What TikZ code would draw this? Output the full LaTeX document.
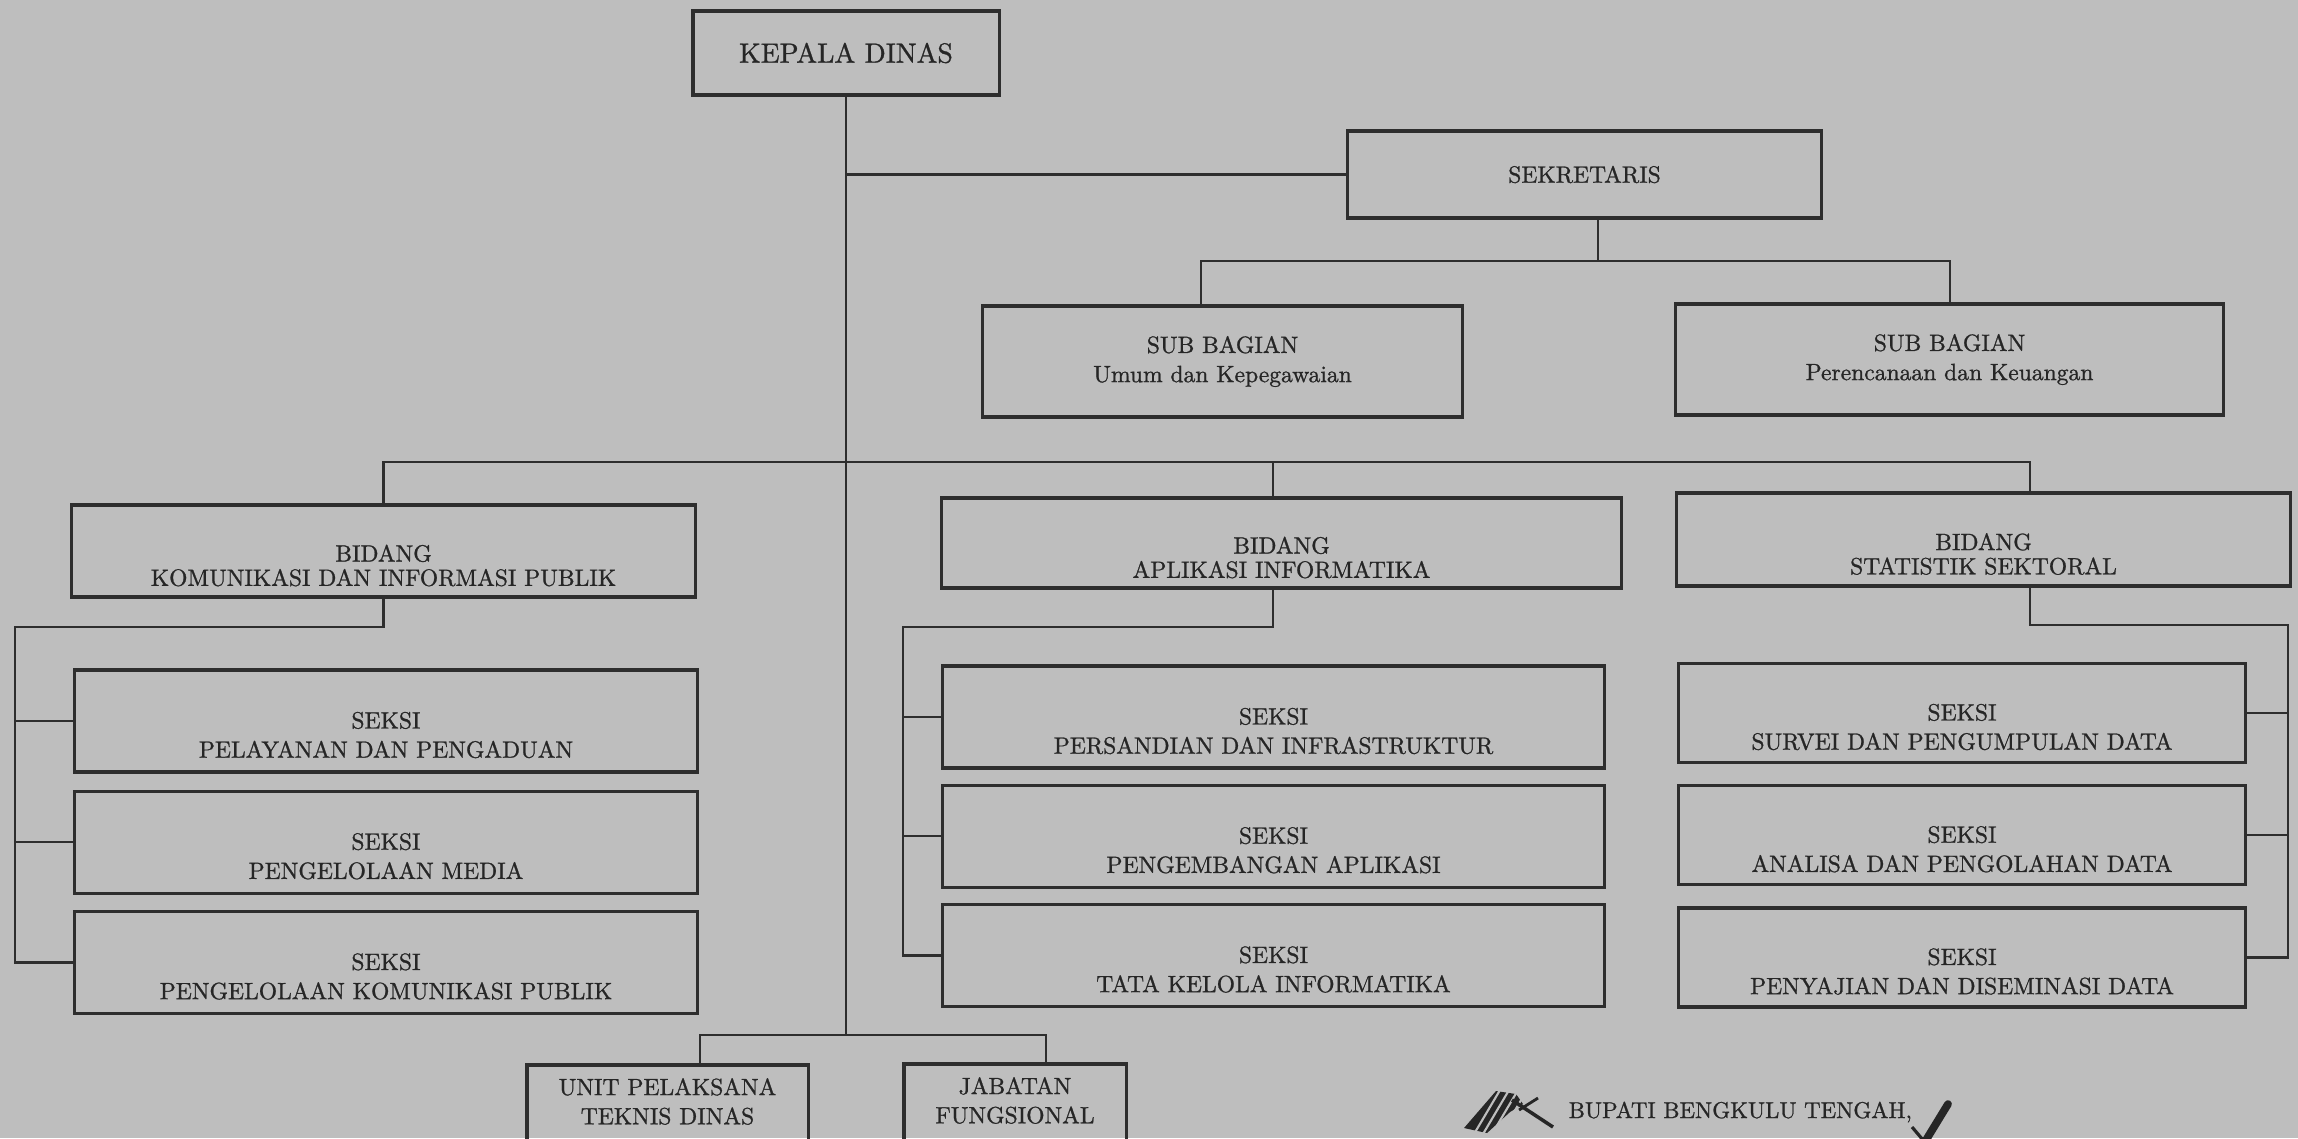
\documentclass[tikz,border=0pt]{standalone}
\usepackage{fontspec}
\setmainfont{lmroman10-regular.otf}[FakeBold=1]
\usepackage{tikz}
\usetikzlibrary{positioning}
\definecolor{kertas}{HTML}{BEBEBE}
\definecolor{tinta}{HTML}{262626}
\definecolor{garis}{HTML}{2E2E2E}

\begin{document}
\begin{tikzpicture}[
  x=0.01cm, y=-0.01cm,
  kotak/.style={draw=garis, line width=0.9pt, inner sep=0pt, align=center, text=tinta, font=\fontsize{6.7}{8.3}\selectfont},
  tulis/.style={align=center, inner sep=0pt, text=tinta, font=\fontsize{6.7}{8.3}\selectfont},
  judul/.style={tulis, font=\fontsize{6.7}{6.9}\selectfont},
  bidang/.style={kotak, minimum height=0.92cm},
  seksi/.style={kotak, minimum height=1.02cm},
  hub/.style={draw=garis, line width=0.65pt}]
\useasboundingbox (0,0) rectangle (2298,1138);
\clip (0,0) rectangle (2298,1138);
\fill[kertas] (0,0) rectangle (2298,1138);

% pimpinan dan sekretariat
\node[kotak, minimum width=3.06cm, minimum height=0.84cm, font=\fontsize{7.9}{9}\selectfont] (kadis) at (846,53) {KEPALA DINAS};
\node[kotak, minimum width=4.73cm, minimum height=0.87cm] (sekretaris) at (1584.5,174.5) {SEKRETARIS};
\node[kotak, minimum width=4.79cm, minimum height=1.11cm] (umum) at (1222.5,361.5) {SUB BAGIAN\\Umum dan Kepegawaian};
\node[kotak, minimum width=5.47cm, minimum height=1.11cm] (renkeu) at (1949.5,359.5) {SUB BAGIAN\\Perencanaan dan Keuangan};

% bidang
\node[bidang, minimum width=6.23cm, label={[judul, yshift=-0.145cm]center:BIDANG\\KOMUNIKASI DAN INFORMASI PUBLIK}] (kominfo) at (383.5,551) {};
\node[bidang, minimum width=6.79cm, minimum height=0.90cm, label={[judul, yshift=-0.145cm]center:BIDANG\\APLIKASI INFORMATIKA}] (aptika) at (1281.5,543) {};
\node[bidang, minimum width=6.13cm, minimum height=0.93cm, label={[judul, yshift=-0.145cm]center:BIDANG\\STATISTIK SEKTORAL}] (statistik) at (1983.5,539.5) {};

% seksi
\node[seksi, minimum width=6.22cm, label={[tulis, yshift=-0.14cm]center:SEKSI\\PELAYANAN DAN PENGADUAN}] (kom1) at (386,721) {};
\node[seksi, minimum width=6.22cm, below=0.16cm of kom1, label={[tulis, yshift=-0.14cm]center:SEKSI\\PENGELOLAAN MEDIA}] (kom2) {};
\node[seksi, minimum width=6.22cm, below=0.15cm of kom2, label={[tulis, yshift=-0.14cm]center:SEKSI\\PENGELOLAAN KOMUNIKASI PUBLIK}] (kom3) {};

\node[seksi, minimum width=6.61cm, label={[tulis, yshift=-0.14cm]center:SEKSI\\PERSANDIAN DAN INFRASTRUKTUR}] (apt1) at (1273.5,717) {};
\node[seksi, minimum width=6.61cm, below=0.14cm of apt1, label={[tulis, yshift=-0.14cm]center:SEKSI\\PENGEMBANGAN APLIKASI}] (apt2) {};
\node[seksi, minimum width=6.61cm, below=0.14cm of apt2, label={[tulis, yshift=-0.14cm]center:SEKSI\\TATA KELOLA INFORMATIKA}] (apt3) {};

\node[seksi, minimum width=5.66cm, minimum height=0.99cm, label={[tulis, yshift=-0.14cm]center:SEKSI\\SURVEI DAN PENGUMPULAN DATA}] (stat1) at (1962,713) {};
\node[seksi, minimum width=5.66cm, minimum height=0.99cm, below=0.2cm of stat1, label={[tulis, yshift=-0.14cm]center:SEKSI\\ANALISA DAN PENGOLAHAN DATA}] (stat2) {};
\node[seksi, minimum width=5.66cm, minimum height=0.99cm, below=0.2cm of stat2, label={[tulis, yshift=-0.14cm]center:SEKSI\\PENYAJIAN DAN DISEMINASI DATA}] (stat3) {};

% UPT dan jabatan fungsional
\node[kotak, minimum width=2.81cm, minimum height=0.95cm, label={[tulis, yshift=0.11cm]center:UNIT PELAKSANA\\TEKNIS DINAS}] (upt) at (667.5,1112.5) {};
\node[kotak, minimum width=2.22cm, minimum height=0.95cm, label={[tulis, yshift=0.11cm]center:JABATAN\\FUNGSIONAL}] (jabfung) at (1015,1111.5) {};

% titik simpul garis
\coordinate (csub1) at (1201,261);
\coordinate (csub2) at (1950,261);
\coordinate (jsek) at (1598,261);
\coordinate (cb2) at (1273,462);
\coordinate (cb3) at (2030,462);
\coordinate (ck) at (15,627);
\coordinate (ca) at (903,627);
\coordinate (cs) at (2288,625);
\coordinate (cu) at (700,1035);
\coordinate (cj) at (1046,1035);

% garis komando
\draw[hub] (kadis.south) -- (kadis.south |- cu);
\draw[hub] (kadis.south |- sekretaris.west) -- (sekretaris.west);
\draw[hub] (sekretaris.south -| jsek) -- (jsek);
\draw[hub] (umum.north -| csub1) -- (csub1) -- (csub2) -- (renkeu.north -| csub2);
\draw[hub] (kominfo.north) |- (cb3) -- (statistik.north -| cb3);
\draw[hub] (cb2) -- (aptika.north -| cb2);

\draw[hub] (kominfo.south) |- (ck) |- (kom3.west);
\draw[hub] (ck |- kom1.west) -- (kom1.west);
\draw[hub] (ck |- kom2.west) -- (kom2.west);

\draw[hub] (aptika.south -| cb2) |- (ca) |- (apt3.west);
\draw[hub] (ca |- apt1.west) -- (apt1.west);
\draw[hub] (ca |- apt2.west) -- (apt2.west);

\draw[hub] (statistik.south -| cb3) |- (cs) |- (stat3.east);
\draw[hub] (cs |- stat1.east) -- (stat1.east);
\draw[hub] (cs |- stat2.east) -- (stat2.east);

\draw[hub] (upt.north -| cu) -- (cu) -- (cj) -- (jabfung.north -| cj);

% pengesahan
\node[anchor=base west, inner sep=0pt, text=tinta, font=\fontsize{6.5}{8}\selectfont] (bupati) at (1568,1118) {BUPATI BENGKULU TENGAH,};
\fill[tinta] (1464,1128) -- (1496,1091) -- (1516,1094) -- (1523,1104) -- (1510,1112) -- (1487,1133) -- cycle;
\foreach \i in {0,1,2,3} \draw[kertas, line width=0.6pt] (1474+9*\i,1134) -- (1500+9*\i,1090);
\draw[tinta, line width=1pt] (1512,1100) -- (1553,1127);
\draw[tinta, line width=0.8pt] (1519,1110) -- (1538,1098);
\draw[tinta, line width=2.2pt, line cap=round] (1948,1104) -- (1926,1140);
\draw[tinta, line width=0.9pt] (1912,1127) -- (1923,1140);
\end{tikzpicture}
\end{document}
